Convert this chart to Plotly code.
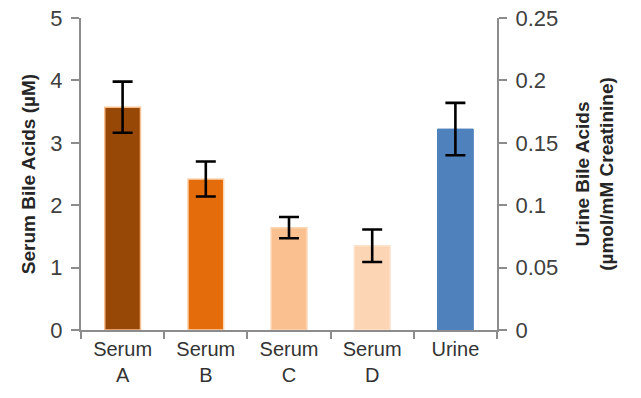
import plotly.graph_objects as go

serum_cats = ["Serum<br>A", "Serum<br>B", "Serum<br>C", "Serum<br>D"]
serum_vals = [3.57, 2.42, 1.64, 1.35]
serum_err = [0.41, 0.28, 0.17, 0.26]
serum_colors = ["#974806", "#E46C0A", "#FAC090", "#FCD5B5"]
serum_lines = ["#FAC090", "#FCD5B5", "#FCD5B5", "#FDE3CC"]

urine_cats = ["Urine"]
urine_vals = [0.161]
urine_err = [0.021]
urine_color = "#4F81BD"

all_cats = serum_cats + urine_cats

fig = go.Figure()
fig.add_trace(go.Bar(
    x=serum_cats, y=serum_vals, yaxis="y", width=0.43,
    marker=dict(color=serum_colors, line=dict(color=serum_lines, width=1.5)),
    error_y=dict(type="data", array=serum_err, color="black", thickness=2.6, width=10),
    showlegend=False,
))
fig.add_trace(go.Bar(
    x=urine_cats, y=urine_vals, yaxis="y2", width=0.43,
    marker=dict(color=urine_color, line=dict(color=urine_color, width=1)),
    error_y=dict(type="data", array=urine_err, color="black", thickness=2.6, width=10),
    showlegend=False,
))

font = "Liberation Sans, Arial, sans-serif"
axis_col = "#8c8c8c"
fig.update_layout(
    width=641, height=398,
    margin=dict(l=81, r=144, t=18, b=68, autoexpand=False),
    paper_bgcolor="white", plot_bgcolor="white",
    barmode="overlay",
    font=dict(family=font, color="#404040", size=21),
    xaxis=dict(
        categoryorder="array", categoryarray=all_cats, automargin=False,
        showline=True, linecolor=axis_col, linewidth=2,
        ticks="outside", tickson="boundaries", ticklen=7, tickcolor=axis_col, tickwidth=2,
        ticklabeloverflow="allow",
        tickfont=dict(size=20, color="#333333"),
    ),
    yaxis=dict(
        range=[0, 5], dtick=1, showgrid=False, zeroline=False, automargin=False,
        showline=True, linecolor=axis_col, linewidth=2,
        ticks="outside", ticklen=8, tickcolor=axis_col, tickwidth=2,
        ticklabelstandoff=4, ticklabeloverflow="allow",
        tickfont=dict(size=22, color="#404040"),
        title=dict(text="<b>Serum Bile Acids (µM)</b>", font=dict(size=19, color="#262626"), standoff=10),
    ),
    yaxis2=dict(
        range=[0, 0.25], dtick=0.05, overlaying="y", side="right",
        showgrid=False, zeroline=False, automargin=False,
        showline=True, linecolor=axis_col, linewidth=2,
        ticks="outside", ticklen=8, tickcolor=axis_col, tickwidth=2,
        ticklabelstandoff=4, ticklabeloverflow="allow",
        tickfont=dict(size=22, color="#404040"),
        tickformat="~g",
        title=dict(text="<b>Urine Bile Acids<br>(µmol/mM Creatinine)</b>", font=dict(size=19, color="#262626"), standoff=18),
    ),
)

fig.write_html("out.html", config={"displayModeBar": False},
               post_script="document.body.style.margin='0';")
